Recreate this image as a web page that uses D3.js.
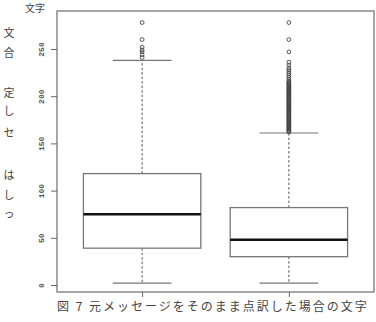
<!DOCTYPE html>
<html>
<head>
<meta charset="utf-8">
<script src="https://cdn.jsdelivr.net/npm/d3@7"></script>
<style>
  body { margin: 0; background: #fff; }
  svg { display: block; }
  .jp { font-family: "Noto Sans CJK JP", sans-serif; fill: #444; }
</style>
</head>
<body>
<div id="chart"></div>
<script>
// box statistics per group
var groups = [1, 2];
var q1 = [39, 30];
var medians = [75, 48];
var q3 = [118, 82];
var whiskerLow = [2, 2];
var whiskerHigh = [238, 161];
var outliers1 = [241, 244, 247, 249, 252, 260, 278];
var outliers2 = [162, 163, 164, 165, 166, 167, 168, 169, 170, 171, 172, 173, 174, 175,
  176, 177, 178, 179, 180, 181, 182, 183, 184, 185, 186, 187, 188, 189, 190, 191, 192,
  193, 194, 195, 196, 197, 198, 199, 200, 201, 202, 203, 204, 205, 206, 207, 208, 209,
  210, 211, 212, 213, 214, 215, 216, 218, 220, 222, 224, 226, 228, 230, 233, 236, 247, 260, 278];
var yTicks = [0, 50, 100, 150, 200, 250];
var sideChars = ["文", "合", "定", "し", "セ", "は", "し", "っ"];
var sideY = [32, 52, 92, 110, 132, 174, 194, 213];

var width = 376, height = 322;
var plot = {left: 57, right: 374, top: 11, bottom: 292};

var svg = d3.select("#chart").append("svg")
    .attr("width", width)
    .attr("height", height);

var x = d3.scaleLinear().domain([0.42, 2.58]).range([plot.left, plot.right]);
var y = d3.scaleLinear().domain([0, 250]).range([285, 49]);

// plot frame
svg.append("rect")
    .attr("x", plot.left).attr("y", plot.top)
    .attr("width", plot.right - plot.left).attr("height", plot.bottom - plot.top)
    .attr("fill", "none").attr("stroke", "#777").attr("stroke-width", 1.3);

// y axis, labels rotated like R's default
var yAxis = g => g
    .attr("transform", `translate(${plot.left},0)`)
    .call(d3.axisLeft(y).tickValues(yTicks).tickSize(6).tickPadding(0))
    .call(g => g.select(".domain").remove())
    .call(g => g.selectAll(".tick line").attr("stroke", "#666"))
    .call(g => g.selectAll(".tick text")
        .attr("x", 0).attr("y", -16).attr("dy", 0)
        .attr("transform", "rotate(-90)")
        .attr("text-anchor", "middle")
        .attr("dominant-baseline", "central")
        .style("font", "bold 8px 'Liberation Mono', monospace")
        .attr("fill", "#555"));
svg.append("g").call(yAxis);

// x axis ticks (no labels)
svg.append("g")
    .attr("transform", `translate(0,${plot.bottom})`)
    .call(d3.axisBottom(x).tickValues(groups).tickSize(5).tickFormat(""))
    .call(g => g.select(".domain").remove())
    .call(g => g.selectAll(".tick line").attr("stroke", "#666"));

var boxW = 0.8;
var bx = groups.map((d, i) => ({
  g: d, q1: q1[i], med: medians[i], q3: q3[i], lo: whiskerLow[i], hi: whiskerHigh[i],
  out: i === 0 ? outliers1 : outliers2
}));

var box = svg.selectAll(".box").data(bx).join("g").attr("class", "box");

// whiskers
box.append("line")
    .attr("x1", d => x(d.g)).attr("x2", d => x(d.g))
    .attr("y1", d => y(d.q3)).attr("y2", d => y(d.hi))
    .attr("stroke", "#555").attr("stroke-dasharray", "2.5,2");
box.append("line")
    .attr("x1", d => x(d.g)).attr("x2", d => x(d.g))
    .attr("y1", d => y(d.q1)).attr("y2", d => y(d.lo))
    .attr("stroke", "#555").attr("stroke-dasharray", "2.5,2");
// caps
box.selectAll(".cap").data(d => [[d.g, d.lo], [d.g, d.hi]]).join("line")
    .attr("x1", d => x(d[0] - boxW / 4)).attr("x2", d => x(d[0] + boxW / 4))
    .attr("y1", d => y(d[1])).attr("y2", d => y(d[1]))
    .attr("stroke", "#777").attr("stroke-width", 1.2);
// box
box.append("rect")
    .attr("x", d => x(d.g - boxW / 2))
    .attr("width", d => x(d.g + boxW / 2) - x(d.g - boxW / 2))
    .attr("y", d => y(d.q3))
    .attr("height", d => y(d.q1) - y(d.q3))
    .attr("fill", "#fff").attr("stroke", "#777").attr("stroke-width", 1.3);
// median
box.append("line")
    .attr("x1", d => x(d.g - boxW / 2)).attr("x2", d => x(d.g + boxW / 2))
    .attr("y1", d => y(d.med)).attr("y2", d => y(d.med))
    .attr("stroke", "#111").attr("stroke-width", 2.5);
// outliers
box.selectAll(".out").data(d => d.out.map(v => [d.g, v])).join("circle")
    .attr("cx", d => x(d[0])).attr("cy", d => y(d[1]))
    .attr("r", 1.9)
    .attr("fill", "none").attr("stroke", "#444").attr("stroke-width", 0.9);

// y label
svg.append("text").attr("class", "jp")
    .attr("x", 45).attr("y", 12)
    .attr("text-anchor", "end")
    .style("font-size", "10px")
    .text("文字");

// caption
svg.append("text").attr("class", "jp")
    .attr("x", 57).attr("y", 311)
    .style("font-size", "12px")
    .style("letter-spacing", "2px")
    .text("図 7 元メッセージをそのまま点訳した場合の文字");

// fragments of the neighbouring text column
svg.selectAll(".side").data(sideChars).join("text").attr("class", "jp")
    .attr("x", 9).attr("y", (d, i) => sideY[i])
    .attr("text-anchor", "middle")
    .attr("dominant-baseline", "central")
    .style("font-size", "11px")
    .text(d => d);
</script>
</body>
</html>
